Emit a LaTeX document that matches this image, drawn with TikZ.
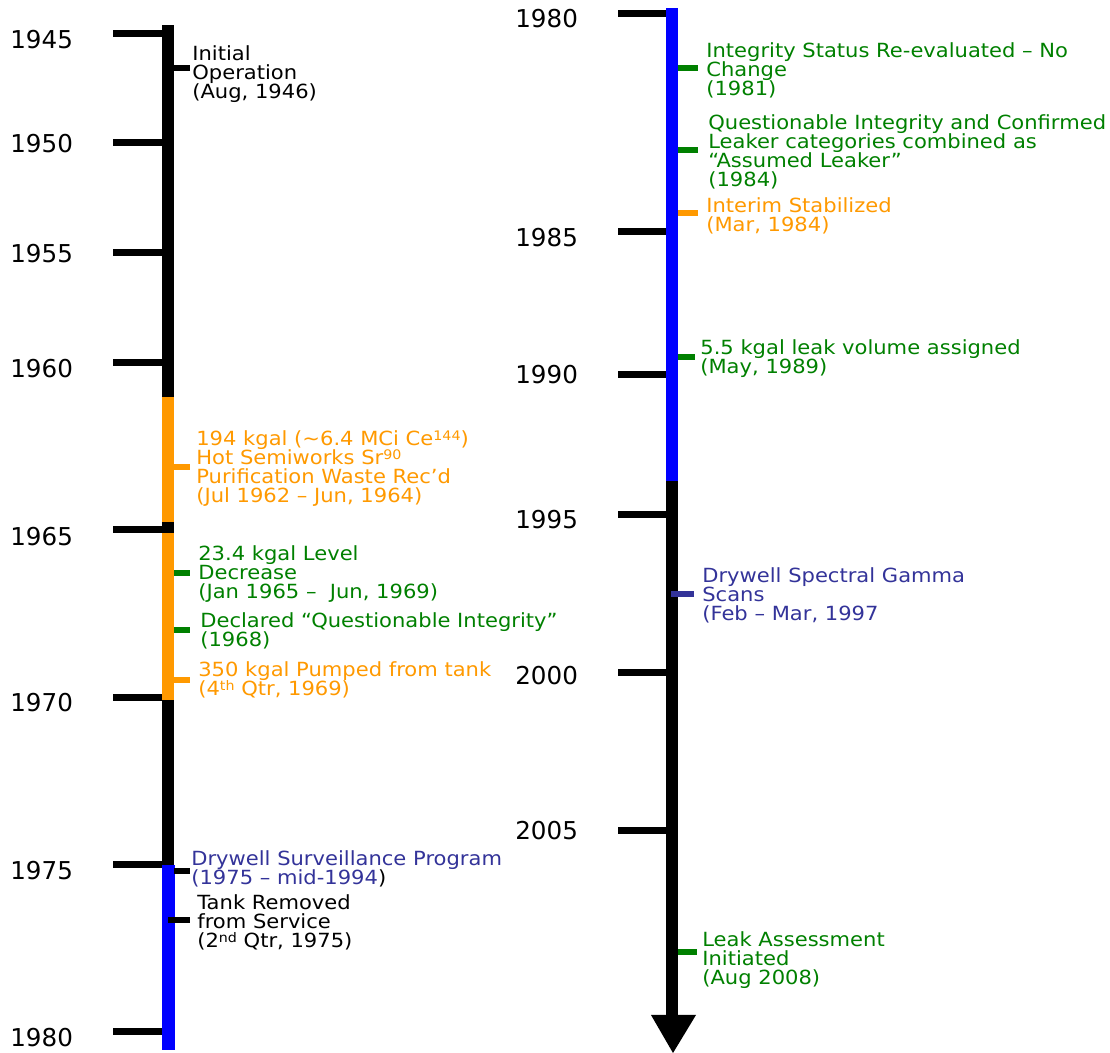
\documentclass[tikz,border=0pt]{standalone}
\usepackage{fontspec}
\setmainfont{DejaVu Sans}
\newfontfamily\evfont[FakeStretch=1.08]{DejaVu Sans}
\newcommand\evtext{\evfont\fontsize{11.1}{10.9}\selectfont\lineskiplimit=-10pt\relax}
\newcommand\upper[1]{\raisebox{0.45ex}{\fontsize{7.5}{7.5}\selectfont #1}}
\usepackage[]{xcolor}
\definecolor{evorange}{HTML}{FF9900}
\definecolor{evgreen}{HTML}{008000}
\definecolor{evnavy}{HTML}{333399}
\definecolor{barblue}{HTML}{0000FF}

\begin{document}
\begin{tikzpicture}[
            x=0.02cm, y=-0.02cm,
            year/.style={anchor=west, inner sep=0pt, font=\fontsize{14}{16}\selectfont},
            event/.style={anchor=north west, inner sep=0pt, align=left, font=\evtext},
            yeartick/.style={line width=0.14cm},
            evtick/.style={line width=0.12cm}
        ]
            \useasboundingbox (0,0) rectangle (1110,1053);

            \fill[black] (162,25) rectangle (174,1050);
            \fill[evorange] (162,397) rectangle (174,522);
            \fill[evorange] (162,533) rectangle (174,700);
            \fill[barblue] (162,865) rectangle (175,1050);
            \foreach \yr/\ty/\ly in {1945/34/40, 1950/143/144, 1955/253/254, 1960/363/369, 1965/530/537, 1970/698/703, 1975/865/871, 1980/1032/1038} {
                \draw[yeartick] (113,\ty) -- (162,\ty);
                \node[year] (L\yr) at (10,\ly) {\yr};
            }

            \fill[barblue] (666,8) rectangle (678,481);
            \fill[black] (666,481) rectangle (678,1015);
            \fill[black] (651,1015) -- (696,1015) -- (673,1053) -- cycle;
            \foreach \yr/\ty/\ly in {1980/14/19, 1985/232/238, 1990/375/375, 1995/515/520, 2000/673/676, 2005/831/831} {
                \draw[yeartick] (618,\ty) -- (666,\ty);
                \node[year] (R\yr) at (515,\ly) {\yr};
            }

            \node[event] (initop) at (192,45) {Initial\\Operation\\(Aug, 1946)};
            \node[event, text=evorange] (hotsemi) at (196,430) {194 kgal (\textasciitilde6.4 MCi Ce\upper{144})\\Hot Semiworks Sr\upper{90}\\Purification Waste Rec’d\\(Jul 1962 – Jun, 1964)};
            \node[event, text=evgreen] (decrease) at (198,545) {23.4 kgal Level\\Decrease\\(Jan 1965 – \ Jun, 1969)};
            \node[event, text=evgreen] (declared) at (200,612) {Declared “Questionable Integrity”\\(1968)};
            \node[event, text=evorange] (pumped) at (198,661) {350 kgal Pumped from tank\\(4\upper{th} Qtr, 1969)};
            \node[event, text=evnavy] (survprog) at (191,850) {Drywell Surveillance Program\\(1975 – mid-1994\textcolor{black}{)}};
            \node[event] (removed) at (197,894) {Tank Removed\\from Service\\(2\upper{nd} Qtr, 1975)};

            \node[event, text=evgreen] (reeval) at (706,42) {Integrity Status Re-evaluated – No\\Change\\(1981)};
            \node[event, text=evgreen] (combined) at (708,114) {Questionable Integrity and Confirmed\\Leaker categories combined as\\“Assumed Leaker”\\(1984)};
            \node[event, text=evorange] (stabilized) at (706,197) {Interim Stabilized\\(Mar, 1984)};
            \node[event, text=evgreen] (leakvol) at (700,339) {5.5 kgal leak volume assigned\\(May, 1989)};
            \node[event, text=evnavy] (gamma) at (702,567) {Drywell Spectral Gamma\\Scans\\(Feb – Mar, 1997};
            \node[event, text=evgreen] (assess) at (702,931) {Leak Assessment\\Initiated\\(Aug 2008)};

            \draw[evtick] (174,68) -- ++(16,0);
            \draw[evtick, evorange] (174,467) -- ++(16,0);
            \draw[evtick, evgreen] (174,573) -- ++(16,0);
            \draw[evtick, evgreen] (174,630) -- ++(16,0);
            \draw[evtick, evorange] (174,680) -- ++(16,0);
            \draw[evtick] (174,871) -- ++(16,0);
            \draw[evtick] (168,920) -- ++(22,0);
            \draw[evtick, evgreen] (678,68) -- ++(20,0);
            \draw[evtick, evgreen] (678,150) -- ++(20,0);
            \draw[evtick, evorange] (678,213) -- ++(20,0);
            \draw[evtick, evgreen] (678,357) -- ++(17,0);
            \draw[evtick, evnavy] (671,594) -- ++(23,0);
            \draw[evtick, evgreen] (678,952) -- ++(19,0);
        \end{tikzpicture}
\end{document}
